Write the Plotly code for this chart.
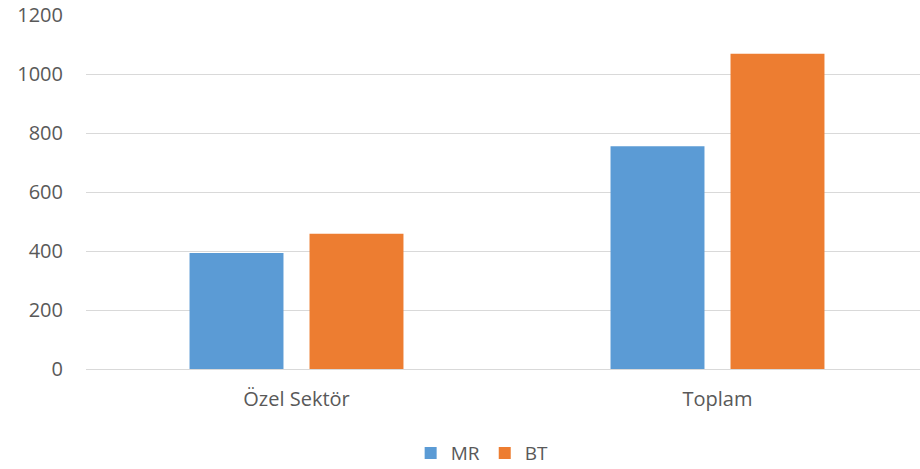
import plotly.graph_objects as go

categories = ["Özel Sektör", "Toplam"]
mr_values = [393, 755]
bt_values = [459, 1069]
y_ticks = [0, 200, 400, 600, 800, 1000, 1200]

font_family = "Open Sans, Noto Sans, sans-serif"

fig = go.Figure()
fig.add_trace(go.Bar(name="MR", x=categories, y=mr_values, marker=dict(color="#5B9BD5", line=dict(width=0))))
fig.add_trace(go.Bar(name="BT", x=categories, y=bt_values, marker=dict(color="#ED7D31", line=dict(width=0))))

fig.update_layout(
    width=920, height=469,
    margin=dict(l=86, r=0, t=15, b=100, autoexpand=False),
    plot_bgcolor="white", paper_bgcolor="white",
    barmode="group", bargap=0.43, bargroupgap=0.217,
    font=dict(family=font_family, size=20, color="#595959"),
    showlegend=True,
    legend=dict(orientation="h", x=0.475, xanchor="center", yref="container", y=0.034, yanchor="middle",
                font=dict(size=19, color="#595959"), itemwidth=30, traceorder="normal"),
)
fig.update_xaxes(range=[-0.5, 1.481], showgrid=False, showline=True, linecolor="#d9d9d9", linewidth=1,
                 automargin=False, ticks="", ticklabelstandoff=12, tickfont=dict(size=20, color="#595959"))
fig.update_yaxes(range=[0, 1200.5], tickvals=y_ticks, showgrid=True, gridcolor="#d9d9d9", gridwidth=1,
                 automargin=False, zeroline=False, ticks="", ticklabelstandoff=22,
                 ticklabeloverflow="allow", tickfont=dict(size=20, color="#595959"))

fig.write_html("out.html", config={"displayModeBar": False},
               post_script="document.body.style.margin='0';")
